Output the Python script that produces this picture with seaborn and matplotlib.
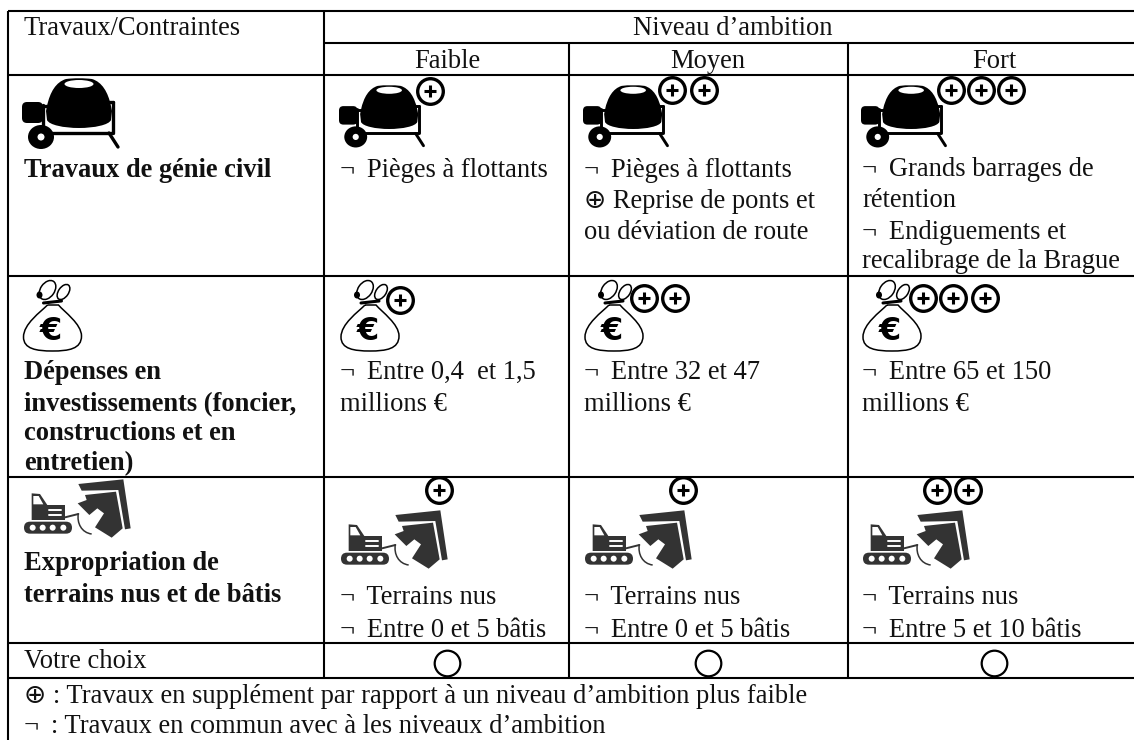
import pandas as pd
import matplotlib.pyplot as plt
import seaborn as sns
from matplotlib.patches import Circle, Ellipse, PathPatch, Polygon, FancyBboxPatch
from matplotlib.path import Path as MPath

# table grid, in picture pixels
col_x = [8, 324, 569, 848, 1134]
row_y = [11, 43, 75, 276, 477, 643, 678]

levels = ["Faible", "Moyen", "Fort"]
level_centers = [447, 708, 994]
text_x = [340, 584, 862]

row_titles = [
    (24, 177, "Travaux de génie civil"),
    (24, 379, "Dépenses en"),
    (24, 411, "investissements (foncier,"),
    (24, 440, "constructions et en"),
    (24, 470, "entretien)"),
    (24, 570, "Expropriation de"),
    (24, 602, "terrains nus et de bâtis"),
]

cell_lines = [
    (0, 177, "¬\u2009 Pièges à flottants"),
    (1, 177, "¬\u2009 Pièges à flottants"),
    (1, 208, "⊕ Reprise de ponts et"),
    (1, 239, "ou déviation de route"),
    (2, 176, "¬\u2009 Grands barrages de"),
    (2, 207, "rétention"),
    (2, 239, "¬\u2009 Endiguements et"),
    (2, 268, "recalibrage de la Brague"),
    (0, 379, "¬\u2009 Entre 0,4  et 1,5"),
    (0, 411, "millions €"),
    (1, 379, "¬\u2009 Entre 32 et 47"),
    (1, 411, "millions €"),
    (2, 379, "¬\u2009 Entre 65 et 150"),
    (2, 411, "millions €"),
    (0, 604, "¬\u2009 Terrains nus"),
    (0, 637, "¬\u2009 Entre 0 et 5 bâtis"),
    (1, 604, "¬\u2009 Terrains nus"),
    (1, 637, "¬\u2009 Entre 0 et 5 bâtis"),
    (2, 604, "¬\u2009 Terrains nus"),
    (2, 637, "¬\u2009 Entre 5 et 10 bâtis"),
]

footnotes = [
    (703, "⊕ : Travaux en supplément par rapport à un niveau d’ambition plus faible"),
    (733, "¬\u2009 : Travaux en commun avec à les niveaux d’ambition"),
]

badge_x = [430, 672, 703.5, 951, 981, 1011,
           400, 644, 674.6, 923, 953, 985,
           439, 683, 937, 968]
badge_y = [91, 90, 90, 90, 90, 90,
           300, 298, 298, 298, 298, 298,
           490, 490, 490, 490]

choice_x = level_centers
choice_y = [663, 663, 663]

FS = 19.1
INK = "#111111"

sns.set_theme(style="white")
plt.rcParams["font.family"] = ["Liberation Serif", "DejaVu Sans"]


def grid_frame():
    segs = []
    def add(x0, y0, x1, y1):
        n = len(segs) // 2
        segs.append({"seg": n, "x": x0, "y": y0})
        segs.append({"seg": n, "x": x1, "y": y1})
    for y in [row_y[0], row_y[2], row_y[3], row_y[4], row_y[5], row_y[6]]:
        add(col_x[0], y, col_x[-1], y)
    add(col_x[1], row_y[1], col_x[-1], row_y[1])
    add(col_x[0], row_y[0], col_x[0], 740)
    add(col_x[1], row_y[0], col_x[1], row_y[6])
    add(col_x[2], row_y[1], col_x[2], row_y[6])
    add(col_x[3], row_y[1], col_x[3], row_y[6])
    return pd.DataFrame(segs)


def curve(ax, x0, y0, verts, codes, s=1.0, **kw):
    pts = [(x0 + a * s, y0 + b * s) for a, b in verts]
    ax.add_patch(PathPatch(MPath(pts, codes), **kw))


def mixer(ax, x0, y0, s=1.0):
    M, L, C = MPath.MOVETO, MPath.LINETO, MPath.CURVE4
    verts = [(22, 1), (12, 4), (6, 14), (3, 28), (2, 33), (3, 42),
             (5, 47), (20, 50), (35, 50), (50, 50), (65, 47), (67, 42),
             (68, 33), (67, 28), (64, 14), (58, 4), (48, 1), (40, 0), (30, 0), (22, 1)]
    verts = [(a + 22, b) for a, b in verts]
    codes = [M, C, C, C, L, L, C, C, C, C, C, C, L, L, C, C, C, C, C, C]
    curve(ax, x0, y0, verts, codes, s, fc="black", ec="none", zorder=3)
    ax.add_patch(Ellipse((x0 + 57 * s, y0 + 6 * s), 29 * s, 8 * s, fc="white", ec="none", zorder=4))
    # motor
    ax.add_patch(FancyBboxPatch((x0, y0 + 24 * s), 21 * s, 21 * s,
                                boxstyle=f"round,pad=0,rounding_size={5 * s}",
                                fc="black", ec="none", zorder=3))
    # frame
    for xs, ys in [((21, 21), (27, 55)), ((28, 90), (55, 55)), ((91, 91), (24, 55)),
                   ((85, 91), (24, 24)), ((20, 26), (28, 28)), ((87, 96), (55, 69))]:
        ax.plot([x0 + a * s for a in xs], [y0 + b * s for b in ys], color="black",
                lw=2.4 * s, solid_capstyle="round", zorder=3)
    ax.add_patch(Ellipse((x0 + 19 * s, y0 + 59 * s), 26 * s, 24 * s, fc="black", ec="none", zorder=3))
    ax.add_patch(Circle((x0 + 19 * s, y0 + 59 * s), 3.5 * s, fc="white", ec="none", zorder=4))


def bag(ax, x0, y0):
    M, L, C = MPath.MOVETO, MPath.LINETO, MPath.CURVE4
    body = [(25, 26), (18, 33), (1, 45), (1, 58), (1, 70), (14, 72), (30, 72),
            (46, 72), (59, 70), (59, 57), (59, 45), (42, 33), (36, 26), (25, 26)]
    codes = [M, C, C, C, C, C, C, C, C, C, C, C, C, L]
    curve(ax, x0, y0, body, codes, fc="white", ec="black", lw=1.1, zorder=3)
    # the two ears of the knot
    ax.add_patch(Ellipse((x0 + 25, y0 + 11), 14, 21, angle=35, fc="white", ec="black", lw=1.1, zorder=3))
    ax.add_patch(Ellipse((x0 + 41, y0 + 13), 10, 17, angle=35, fc="white", ec="black", lw=1.1, zorder=3))
    ax.add_patch(Ellipse((x0 + 17, y0 + 16), 6, 7, fc="black", ec="none", zorder=4))
    ax.plot([x0 + 21, x0 + 39], [y0 + 24, y0 + 22], color="black", lw=2.2, zorder=4)
    ax.text(x0 + 28, y0 + 53, "€", fontsize=23, fontweight="bold", family="DejaVu Sans",
            ha="center", va="center", color="black", zorder=5)


def dozer(ax, x0, y0):
    col = "#333333"
    def tr(u, v):
        return (x0 + (u - 42) / 3, y0 + (v - 30) / 3)
    roof = [(205, 42), (340, 28), (362, 175), (345, 178), (325, 60), (215, 62)]
    house = [(225, 75), (318, 65), (338, 175), (305, 203), (255, 172), (282, 130), (262, 115),
             (238, 135), (228, 125), (215, 112), (203, 100), (230, 90)]
    cabin = [(65, 70), (90, 72), (112, 105), (165, 105), (165, 150), (65, 150)]
    for poly in (roof, house, cabin):
        ax.add_patch(Polygon([tr(*p) for p in poly], closed=True, fc=col, ec="none", zorder=3))
    ax.add_patch(Polygon([tr(*p) for p in [(70, 78), (86, 78), (100, 103), (70, 103)]], closed=True,
                         fc="white", ec="none", zorder=4))
    for v in (120, 135):
        a, b = tr(118, v), tr(152, v)
        ax.plot([a[0], b[0]], [a[1], b[1]], color="white", lw=1.4, zorder=4)
    tx, ty = tr(42, 155)
    ax.add_patch(FancyBboxPatch((tx, ty), 48, 12, boxstyle="round,pad=0,rounding_size=6",
                                fc=col, ec="none", zorder=3))
    for u in (68, 98, 128, 160):
        ax.add_patch(Circle(tr(u, 173), 3, fc="white", ec="none", zorder=4))
    # arm and blade
    a, b = tr(165, 142), tr(205, 132)
    ax.plot([a[0], b[0]], [a[1], b[1]], color=col, lw=1.4, zorder=3)
    M, C = MPath.MOVETO, MPath.CURVE4
    blade = [tr(205, 130), tr(200, 160), tr(215, 188), tr(245, 192)]
    ax.add_patch(PathPatch(MPath(blade, [M, C, C, C]), fc="none", ec=col, lw=1.1, zorder=3))


fig, ax = plt.subplots(figsize=(11.34, 7.40), dpi=100)
ax.set_position([0, 0, 1, 1])

sns.lineplot(data=grid_frame(), x="x", y="y", units="seg", estimator=None, sort=False,
             color="black", lw=1.5, ax=ax, legend=False, solid_capstyle="butt")

ax.set_xlim(0, 1134)
ax.set_ylim(740, 0)
ax.axis("off")

ax.text(24, 35, "Travaux/Contraintes", fontsize=FS, color=INK)
ax.text(733, 35, "Niveau d’ambition", fontsize=FS, color=INK, ha="center")
for cx, name in zip(level_centers, levels):
    ax.text(cx, 68, name, fontsize=FS, color=INK, ha="center")
for x, y, t in row_titles:
    ax.text(x, y, t, fontsize=FS, fontweight="bold", color=INK)
for c, y, t in cell_lines:
    ax.text(text_x[c], y, t, fontsize=FS, color=INK)
ax.text(24, 668, "Votre choix", fontsize=FS, color=INK)
for y, t in footnotes:
    ax.text(24, y, t, fontsize=FS, color=INK)

# icons
mixer(ax, 22, 78)
bag(ax, 22.5, 279)
dozer(ax, 24, 480)
for x in text_x:
    mixer(ax, x - 1, 85, 0.88)
    bag(ax, x, 279)
    dozer(ax, x + 1, 511)

badges = pd.DataFrame({"x": badge_x, "y": badge_y})
sns.scatterplot(data=badges, x="x", y="y", s=340, color="white", edgecolor="black",
                linewidth=2.4, zorder=6, ax=ax, legend=False)
sns.scatterplot(data=badges, x="x", y="y", marker="+", s=80, color="black",
                linewidth=2.2, zorder=7, ax=ax, legend=False)

choices = pd.DataFrame({"x": choice_x, "y": choice_y})
sns.scatterplot(data=choices, x="x", y="y", s=340, color="white", edgecolor="black",
                linewidth=1.6, zorder=6, ax=ax, legend=False)

ax.set_xlim(0, 1134)
ax.set_ylim(740, 0)
fig.savefig("out.png", dpi=100, facecolor="white")
